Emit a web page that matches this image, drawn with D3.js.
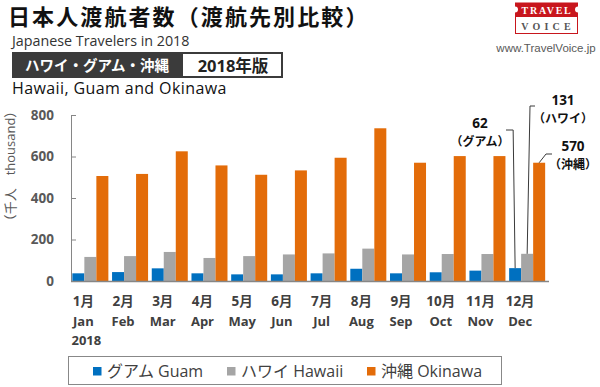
<!DOCTYPE html>
<html><head><meta charset="utf-8">
<script src="https://cdn.jsdelivr.net/npm/d3@7"></script>
<style>
html,body{margin:0;padding:0;background:#fff;}
svg{display:block;}
</style>
</head><body>
<svg id="c" width="600" height="387"></svg>
<script>
// ---- data ----
const monthsJa = ["1月","2月","3月","4月","5月","6月","7月","8月","9月","10月","11月","12月"];
const monthsEn = ["Jan","Feb","Mar","Apr","May","Jun","Jul","Aug","Sep","Oct","Nov","Dec"];
const seriesKeys = ["guam","hawaii","okinawa"];
const seriesNames = ["グアム Guam","ハワイ Hawaii","沖縄 Okinawa"];
const guam    = [37, 43, 61, 37, 32, 32, 37, 59, 37, 42, 50, 62];
const hawaii  = [116,120,140,111,120,128,133,156,128,130,130,131];
const okinawa = [506,516,625,557,512,533,594,736,570,602,602,570];
const yTicks = [0,200,400,600,800];
const annotations = [
  {key:"guam",    value:"62",  label:"（グアム）"},
  {key:"hawaii",  value:"131", label:"（ハワイ）"},
  {key:"okinawa", value:"570", label:"（沖縄）"}
];

const colors = {guam:"#0070C0", hawaii:"#A5A5A5", okinawa:"#E36C09"};
const vals = {guam, hawaii, okinawa};
const rows = monthsEn.map((m,i)=>({m, i, guam:guam[i], hawaii:hawaii[i], okinawa:okinawa[i]}));

const svg = d3.select("#c");
const LAT = "'Open Sans','Noto Sans CJK JP',sans-serif";
const CJK = "'Noto Sans CJK JP',sans-serif";

// ---- header ----
svg.append("text").attr("x",8).attr("y",25).attr("font-family",CJK).attr("font-weight",700)
  .attr("font-size",22).attr("letter-spacing",2.1).attr("fill","#111").text("日本人渡航者数（渡航先別比較）");
svg.append("text").attr("x",12).attr("y",46).attr("font-family",LAT).attr("font-size",14.3)
  .attr("fill","#333").text("Japanese Travelers in 2018");
svg.append("rect").attr("x",12).attr("y",52).attr("width",170).attr("height",26).attr("fill","#3b3b3b");
svg.append("rect").attr("x",182).attr("y",53).attr("width",100).attr("height",24).attr("fill","#fff")
  .attr("stroke","#3b3b3b").attr("stroke-width",2);
svg.append("text").attr("x",97).attr("y",70.5).attr("text-anchor","middle").attr("font-family",CJK)
  .attr("font-weight",700).attr("font-size",14.5).attr("fill","#fff").text("ハワイ・グアム・沖縄");
svg.append("text").attr("x",233).attr("y",71.5).attr("text-anchor","middle").attr("font-family",LAT)
  .attr("font-weight",700).attr("font-size",16.5).attr("fill","#222").text("2018年版");
svg.append("text").attr("x",12).attr("y",94).attr("font-family",LAT).attr("font-size",16)
  .attr("letter-spacing",0.4).attr("fill","#111").text("Hawaii, Guam and Okinawa");

// ---- logo ----
const logo = svg.append("g");
logo.append("rect").attr("x",515).attr("y",2.5).attr("width",63).attr("height",14).attr("fill","#C8161D");
logo.append("circle").attr("cx",515).attr("cy",9.5).attr("r",3).attr("fill","#fff");
logo.append("circle").attr("cx",578).attr("cy",9.5).attr("r",3).attr("fill","#fff");
logo.append("rect").attr("x",515.5).attr("y",16.5).attr("width",62).attr("height",17).attr("fill","#fff")
  .attr("stroke","#C8161D").attr("stroke-width",1);
logo.append("text").attr("x",547).attr("y",13.5).attr("text-anchor","middle").attr("font-family","'Liberation Serif','DejaVu Serif',serif")
  .attr("font-weight",700).attr("font-size",10).attr("letter-spacing",1.8).attr("fill","#fff").text("TRAVEL");
logo.append("text").attr("x",548).attr("y",29.5).attr("text-anchor","middle").attr("font-family","'Liberation Serif','DejaVu Serif',serif")
  .attr("font-weight",700).attr("font-size",10).attr("letter-spacing",4.2).attr("fill","#555").text("VOICE");
svg.append("text").attr("x",546).attr("y",52).attr("text-anchor","middle").attr("font-family","'Liberation Sans',Arial,sans-serif")
  .attr("font-size",11.5).attr("fill","#595959").text("www.TravelVoice.jp");

// ---- scales ----
const x0 = d3.scaleBand().domain(monthsEn).range([70.5, 547]).paddingInner(0.093).paddingOuter(0.0465);
const x1 = d3.scaleBand().domain(seriesKeys).range([0, x0.bandwidth()]);
const y = d3.scaleLinear().domain([0,800]).range([281,115]);

// ---- bars ----
const g = svg.append("g");
g.selectAll("g.grp").data(rows).join("g").attr("class","grp")
  .attr("transform", d=>`translate(${x0(d.m)},0)`)
  .selectAll("rect").data(d=>seriesKeys.map(k=>({k, v:d[k]}))).join("rect")
  .attr("x", d=>x1(d.k)).attr("width", x1.bandwidth())
  .attr("y", d=>y(d.v)).attr("height", d=>y(0)-y(d.v))
  .attr("fill", d=>colors[d.k]);

// ---- axes ----
const yAxis = d3.axisLeft(y).tickValues(yTicks).tickSizeInner(-5).tickSizeOuter(0).tickPadding(17);
const ya = svg.append("g").attr("transform","translate(71,0)").call(yAxis);
ya.select(".domain").attr("stroke","#868686");
ya.selectAll(".tick line").attr("stroke","#868686");
ya.selectAll(".tick text").attr("font-family",LAT).attr("font-weight",700).attr("font-size",13.5).attr("fill","#595959");
ya.selectAll(".tick").filter(d=>d===0).select("line").remove();

svg.append("line").attr("x1",71).attr("x2",549).attr("y1",y(0)+0.5).attr("y2",y(0)+0.5).attr("stroke","#868686").attr("stroke-width",1.3);

// x labels
const xl = svg.append("g");
monthsEn.forEach((m,i)=>{
  const cx = x0(m) + x0.bandwidth()/2 - 7;
  xl.append("text").attr("x",cx).attr("y",306).attr("text-anchor","middle").attr("font-family",LAT)
    .attr("font-weight",700).attr("font-size",13.5).attr("fill","#404040").text(monthsJa[i]);
  xl.append("text").attr("x",cx).attr("y",326).attr("text-anchor","middle").attr("font-family",LAT)
    .attr("font-weight",700).attr("font-size",13).attr("fill","#404040").text(m);
});
xl.append("text").attr("x",x0(monthsEn[0]) + x0.bandwidth()/2 - 4).attr("y",345).attr("text-anchor","middle")
  .attr("font-family",LAT).attr("font-weight",700).attr("font-size",13).attr("fill","#404040").text("2018");

// y label
svg.append("text").attr("transform","translate(15,166) rotate(-90)").attr("text-anchor","middle")
  .attr("font-family",LAT).attr("font-size",13).attr("fill","#595959").text("（千人　thousand）");

// ---- annotations (December) ----
const last = monthsEn.length-1;
const barTop = k => [x0(monthsEn[last]) + x1(k) + x1.bandwidth()/2, y(vals[k][last])];
const annLayout = {
  guam:   {tx:480, ty:128, path:(p)=>[p,[p[0]-2,130],[506,130]]},
  hawaii: {tx:563, ty:105, path:(p)=>[p,[530,106],[535,106]]},
  okinawa:{tx:573, ty:151, path:(p)=>[p,[546,154],[552,154]]}
};
annotations.forEach(a=>{
  const L = annLayout[a.key];
  const p = barTop(a.key);
  svg.append("path").attr("d", d3.line()(L.path(p))).attr("fill","none").attr("stroke","#3a3a3a").attr("stroke-width",1);
  svg.append("text").attr("x",L.tx).attr("y",L.ty).attr("text-anchor","middle").attr("font-family",LAT)
    .attr("font-weight",700).attr("font-size",13.5).attr("fill","#111").text(a.value);
  svg.append("text").attr("x",L.tx).attr("y",L.ty+17.5).attr("text-anchor","middle").attr("font-family",CJK)
    .attr("font-weight",700).attr("font-size",12).attr("fill","#111").text(a.label);
});

// ---- legend ----
const lg = svg.append("g");
lg.append("rect").attr("x",68.5).attr("y",356.5).attr("width",433).attr("height",28).attr("fill","#fff")
  .attr("stroke","#888").attr("stroke-width",1);
const legX = [93, 227, 367];
seriesKeys.forEach((k,i)=>{
  lg.append("rect").attr("x",legX[i]).attr("y",367).attr("width",8.5).attr("height",8.5).attr("fill",colors[k]);
  lg.append("text").attr("x",legX[i]+14).attr("y",377).attr("font-family",LAT).attr("font-size",16)
    .attr("fill","#404040").text(seriesNames[i]);
});
</script>
</body></html>
